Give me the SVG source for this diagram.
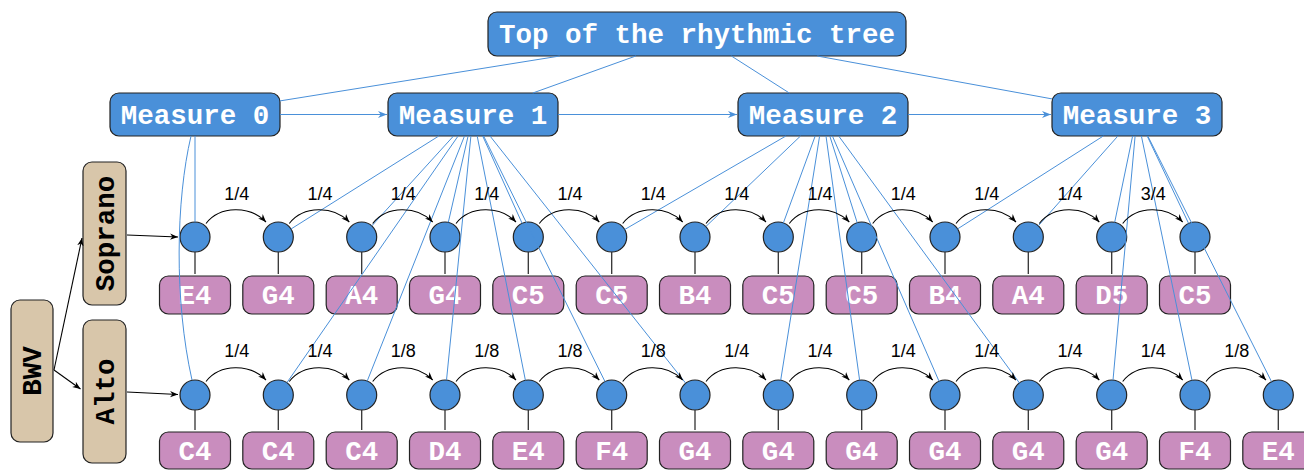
<svg xmlns="http://www.w3.org/2000/svg" xmlns:xlink="http://www.w3.org/1999/xlink" width="1304" height="470" viewBox="0 0 1304 470">
  <style>
    .blue { fill: #4A90D9; stroke: #222; stroke-width: 1.2; }
    .pitch { fill: #C98DBE; stroke: #222; stroke-width: 1.2; }
    .part { fill: #D8C6AA; stroke: #222; stroke-width: 1.2; }
    .mono { font-family: "Liberation Mono", "Courier New", monospace; font-weight: bold; font-size: 27.5px; text-anchor: middle; }
    .wt { fill: #fff; }
    .bk { fill: #000; }
    .dur { font-family: "Liberation Sans", Arial, sans-serif; font-size: 18px; text-anchor: middle; fill: #000; }
    .tree { fill: none; stroke: #4A90D9; stroke-width: 1; }
    .arc { fill: none; stroke: #000; stroke-width: 1.1; marker-end: url(#ahBlack); }
    .stem { fill: none; stroke: #333; stroke-width: 1.3; }
    .link { fill: none; stroke: #000; stroke-width: 1.1; marker-end: url(#ahBlack); }
    .next { fill: none; stroke: #4A90D9; stroke-width: 1.2; marker-end: url(#ahBlue); }
  </style>
  <defs>
    <marker id="ahBlack" viewBox="0 0 10 10" refX="10" refY="5" markerWidth="8" markerHeight="8" markerUnits="userSpaceOnUse" orient="auto">
      <path d="M0 1 L10 5 L0 9 L3 5 Z" fill="#000"/>
    </marker>
    <marker id="ahBlue" viewBox="0 0 10 10" refX="10" refY="5" markerWidth="9" markerHeight="9" markerUnits="userSpaceOnUse" orient="auto">
      <path d="M0 1 L10 5 L0 9 L3 5 Z" fill="#4A90D9"/>
    </marker>
    <path id="arc" class="arc" d="M11 -13.5 C25 -31.5 55 -31.5 71 -15"/>
  </defs>

  <!-- rhythmic tree -->
  <g id="top"><rect class="blue" x="488" y="12" width="418" height="44" rx="9"/><text class="mono wt" x="697" y="43">Top of the rhythmic tree</text></g>
  <g id="measure0"><rect class="blue" x="110" y="93" width="170" height="43" rx="9"/><text class="mono wt" x="195" y="124">Measure 0</text></g>
  <g id="measure1"><rect class="blue" x="388" y="93" width="170" height="43" rx="9"/><text class="mono wt" x="473" y="124">Measure 1</text></g>
  <g id="measure2"><rect class="blue" x="738" y="93" width="170" height="43" rx="9"/><text class="mono wt" x="823" y="124">Measure 2</text></g>
  <g id="measure3"><rect class="blue" x="1052" y="93" width="170" height="43" rx="9"/><text class="mono wt" x="1137" y="124">Measure 3</text></g>

  <!-- score and voices -->
  <g id="bwv"><rect class="part" x="11" y="300" width="42" height="142" rx="9"/><text class="mono bk" transform="translate(32 371) rotate(-90)" x="0" y="9">BWV</text></g>
  <g id="soprano"><rect class="part" x="83" y="162" width="43" height="143" rx="9"/><text class="mono bk" transform="translate(104.5 233.5) rotate(-90)" x="0" y="9">Soprano</text></g>
  <g id="alto"><rect class="part" x="83" y="320" width="43" height="143" rx="9"/><text class="mono bk" transform="translate(104.5 391.5) rotate(-90)" x="0" y="9">Alto</text></g>

  <!-- soprano notes -->
  <g id="s0"><circle class="blue" cx="195" cy="237" r="15"/><rect class="pitch" x="159.5" y="276" width="71" height="38" rx="9"/><text class="mono wt" x="195" y="304">E4</text></g>
  <g id="s1"><circle class="blue" cx="278.3" cy="237" r="15"/><rect class="pitch" x="242.8" y="276" width="71" height="38" rx="9"/><text class="mono wt" x="278.3" y="304">G4</text></g>
  <g id="s2"><circle class="blue" cx="361.7" cy="237" r="15"/><rect class="pitch" x="326.2" y="276" width="71" height="38" rx="9"/><text class="mono wt" x="361.7" y="304">A4</text></g>
  <g id="s3"><circle class="blue" cx="445" cy="237" r="15"/><rect class="pitch" x="409.5" y="276" width="71" height="38" rx="9"/><text class="mono wt" x="445" y="304">G4</text></g>
  <g id="s4"><circle class="blue" cx="528.3" cy="237" r="15"/><rect class="pitch" x="492.8" y="276" width="71" height="38" rx="9"/><text class="mono wt" x="528.3" y="304">C5</text></g>
  <g id="s5"><circle class="blue" cx="611.7" cy="237" r="15"/><rect class="pitch" x="576.2" y="276" width="71" height="38" rx="9"/><text class="mono wt" x="611.7" y="304">C5</text></g>
  <g id="s6"><circle class="blue" cx="695" cy="237" r="15"/><rect class="pitch" x="659.5" y="276" width="71" height="38" rx="9"/><text class="mono wt" x="695" y="304">B4</text></g>
  <g id="s7"><circle class="blue" cx="778.3" cy="237" r="15"/><rect class="pitch" x="742.8" y="276" width="71" height="38" rx="9"/><text class="mono wt" x="778.3" y="304">C5</text></g>
  <g id="s8"><circle class="blue" cx="861.7" cy="237" r="15"/><rect class="pitch" x="826.2" y="276" width="71" height="38" rx="9"/><text class="mono wt" x="861.7" y="304">C5</text></g>
  <g id="s9"><circle class="blue" cx="945" cy="237" r="15"/><rect class="pitch" x="909.5" y="276" width="71" height="38" rx="9"/><text class="mono wt" x="945" y="304">B4</text></g>
  <g id="s10"><circle class="blue" cx="1028.3" cy="237" r="15"/><rect class="pitch" x="992.8" y="276" width="71" height="38" rx="9"/><text class="mono wt" x="1028.3" y="304">A4</text></g>
  <g id="s11"><circle class="blue" cx="1111.7" cy="237" r="15"/><rect class="pitch" x="1076.2" y="276" width="71" height="38" rx="9"/><text class="mono wt" x="1111.7" y="304">D5</text></g>
  <g id="s12"><circle class="blue" cx="1195" cy="237" r="15"/><rect class="pitch" x="1159.5" y="276" width="71" height="38" rx="9"/><text class="mono wt" x="1195" y="304">C5</text></g>

  <!-- alto notes -->
  <g id="a0"><circle class="blue" cx="195" cy="395" r="15"/><rect class="pitch" x="159.5" y="432" width="71" height="37" rx="9"/><text class="mono wt" x="195" y="460">C4</text></g>
  <g id="a1"><circle class="blue" cx="278.3" cy="395" r="15"/><rect class="pitch" x="242.8" y="432" width="71" height="37" rx="9"/><text class="mono wt" x="278.3" y="460">C4</text></g>
  <g id="a2"><circle class="blue" cx="361.7" cy="395" r="15"/><rect class="pitch" x="326.2" y="432" width="71" height="37" rx="9"/><text class="mono wt" x="361.7" y="460">C4</text></g>
  <g id="a3"><circle class="blue" cx="445" cy="395" r="15"/><rect class="pitch" x="409.5" y="432" width="71" height="37" rx="9"/><text class="mono wt" x="445" y="460">D4</text></g>
  <g id="a4"><circle class="blue" cx="528.3" cy="395" r="15"/><rect class="pitch" x="492.8" y="432" width="71" height="37" rx="9"/><text class="mono wt" x="528.3" y="460">E4</text></g>
  <g id="a5"><circle class="blue" cx="611.7" cy="395" r="15"/><rect class="pitch" x="576.2" y="432" width="71" height="37" rx="9"/><text class="mono wt" x="611.7" y="460">F4</text></g>
  <g id="a6"><circle class="blue" cx="695" cy="395" r="15"/><rect class="pitch" x="659.5" y="432" width="71" height="37" rx="9"/><text class="mono wt" x="695" y="460">G4</text></g>
  <g id="a7"><circle class="blue" cx="778.3" cy="395" r="15"/><rect class="pitch" x="742.8" y="432" width="71" height="37" rx="9"/><text class="mono wt" x="778.3" y="460">G4</text></g>
  <g id="a8"><circle class="blue" cx="861.7" cy="395" r="15"/><rect class="pitch" x="826.2" y="432" width="71" height="37" rx="9"/><text class="mono wt" x="861.7" y="460">G4</text></g>
  <g id="a9"><circle class="blue" cx="945" cy="395" r="15"/><rect class="pitch" x="909.5" y="432" width="71" height="37" rx="9"/><text class="mono wt" x="945" y="460">G4</text></g>
  <g id="a10"><circle class="blue" cx="1028.3" cy="395" r="15"/><rect class="pitch" x="992.8" y="432" width="71" height="37" rx="9"/><text class="mono wt" x="1028.3" y="460">G4</text></g>
  <g id="a11"><circle class="blue" cx="1111.7" cy="395" r="15"/><rect class="pitch" x="1076.2" y="432" width="71" height="37" rx="9"/><text class="mono wt" x="1111.7" y="460">G4</text></g>
  <g id="a12"><circle class="blue" cx="1195" cy="395" r="15"/><rect class="pitch" x="1159.5" y="432" width="71" height="37" rx="9"/><text class="mono wt" x="1195" y="460">F4</text></g>
  <g id="a13"><circle class="blue" cx="1278.3" cy="395" r="15"/><rect class="pitch" x="1242.8" y="432" width="71" height="37" rx="9"/><text class="mono wt" x="1278.3" y="460">E4</text></g>

  <g id="connectors">
    <!-- stems from note heads to pitch labels -->
    <path class="stem" d="M195 252V274M278.3 252V274M361.7 252V274M445 252V274M528.3 252V274M611.7 252V274M695 252V274M778.3 252V274M861.7 252V274M945 252V274M1028.3 252V274M1111.7 252V274M1195 252V274"/>
    <path class="stem" d="M195 410V430M278.3 410V430M361.7 410V430M445 410V430M528.3 410V430M611.7 410V430M695 410V430M778.3 410V430M861.7 410V430M945 410V430M1028.3 410V430M1111.7 410V430M1195 410V430M1278.3 410V430"/>

    <!-- score to voices, voices to first notes -->
    <path class="link" d="M54 370 L82 238"/>
    <path class="link" d="M54 370 L80.5 389"/>
    <path class="link" d="M127 235 L178 237"/>
    <path class="link" d="M127 392 L178 394.5"/>

    <!-- tree: top to measures -->
    <path class="tree" d="M559.8 56 L280 100.9M635.8 56 L532.8 93M731.4 56 L789.3 93M817.3 56 L1052 98.9"/>
    <!-- measure succession -->
    <path class="next" d="M280 114.5 H387"/>
    <path class="next" d="M558 114.5 H737"/>
    <path class="next" d="M908 114.5 H1051"/>

    <!-- measures to notes -->
    <path class="tree" d="M195 136 L195 222M191 136 C176 200 174 300 192 380"/>
    <path class="tree" d="M438.8 136 L291 229M453.5 136 L371.8 225.9M468.1 136 L448.3 222.4M482.7 136 L522.1 223.3"/>
    <path class="tree" d="M458.1 136 L286.9 382.7M464.5 136 L367.2 381.1M470.9 136 L446.5 380.1M477.2 136 L525.4 380.3M483.6 136 L605 381.6M490 136 L685.7 383.2"/>
    <path class="tree" d="M785.9 136 L624.7 229.5M800.5 136 L705.8 226.6M815.2 136 L783.4 222.9M829.8 136 L857.2 222.7"/>
    <path class="tree" d="M819.6 136 L780.7 380.2M826 136 L859.6 380.1M832.4 136 L939 381.2M838.7 136 L1019.4 382.9"/>
    <path class="tree" d="M1103.3 136 L957.6 228.9M1117.9 136 L1038.3 225.8M1132.6 136 L1114.7 222.3M1147.2 136 L1188.6 223.4"/>
    <path class="tree" d="M1135.1 136 L1113 380.1M1141.4 136 L1192 380.3M1147.8 136 L1271.5 381.6"/>

    <!-- soprano durations -->
    <use xlink:href="#arc" x="195" y="237"/><use xlink:href="#arc" x="278.3" y="237"/><use xlink:href="#arc" x="361.7" y="237"/><use xlink:href="#arc" x="445" y="237"/>
    <use xlink:href="#arc" x="528.3" y="237"/><use xlink:href="#arc" x="611.7" y="237"/><use xlink:href="#arc" x="695" y="237"/><use xlink:href="#arc" x="778.3" y="237"/>
    <use xlink:href="#arc" x="861.7" y="237"/><use xlink:href="#arc" x="945" y="237"/><use xlink:href="#arc" x="1028.3" y="237"/><use xlink:href="#arc" x="1111.7" y="237"/>
    <g class="dur">
      <text x="236.7" y="200">1/4</text><text x="320" y="200">1/4</text><text x="403.3" y="200">1/4</text><text x="486.7" y="200">1/4</text>
      <text x="570" y="200">1/4</text><text x="653.3" y="200">1/4</text><text x="736.7" y="200">1/4</text><text x="820" y="200">1/4</text>
      <text x="903.3" y="200">1/4</text><text x="986.7" y="200">1/4</text><text x="1070" y="200">1/4</text><text x="1153.3" y="200">3/4</text>
    </g>

    <!-- alto durations -->
    <use xlink:href="#arc" x="195" y="395"/><use xlink:href="#arc" x="278.3" y="395"/><use xlink:href="#arc" x="361.7" y="395"/><use xlink:href="#arc" x="445" y="395"/>
    <use xlink:href="#arc" x="528.3" y="395"/><use xlink:href="#arc" x="611.7" y="395"/><use xlink:href="#arc" x="695" y="395"/><use xlink:href="#arc" x="778.3" y="395"/>
    <use xlink:href="#arc" x="861.7" y="395"/><use xlink:href="#arc" x="945" y="395"/><use xlink:href="#arc" x="1028.3" y="395"/><use xlink:href="#arc" x="1111.7" y="395"/>
    <use xlink:href="#arc" x="1195" y="395"/>
    <g class="dur">
      <text x="236.7" y="357">1/4</text><text x="320" y="357">1/4</text><text x="403.3" y="357">1/8</text><text x="486.7" y="357">1/8</text>
      <text x="570" y="357">1/8</text><text x="653.3" y="357">1/8</text><text x="736.7" y="357">1/4</text><text x="820" y="357">1/4</text>
      <text x="903.3" y="357">1/4</text><text x="986.7" y="357">1/4</text><text x="1070" y="357">1/4</text><text x="1153.3" y="357">1/4</text>
      <text x="1236.7" y="357">1/8</text>
    </g>
  </g>
</svg>
